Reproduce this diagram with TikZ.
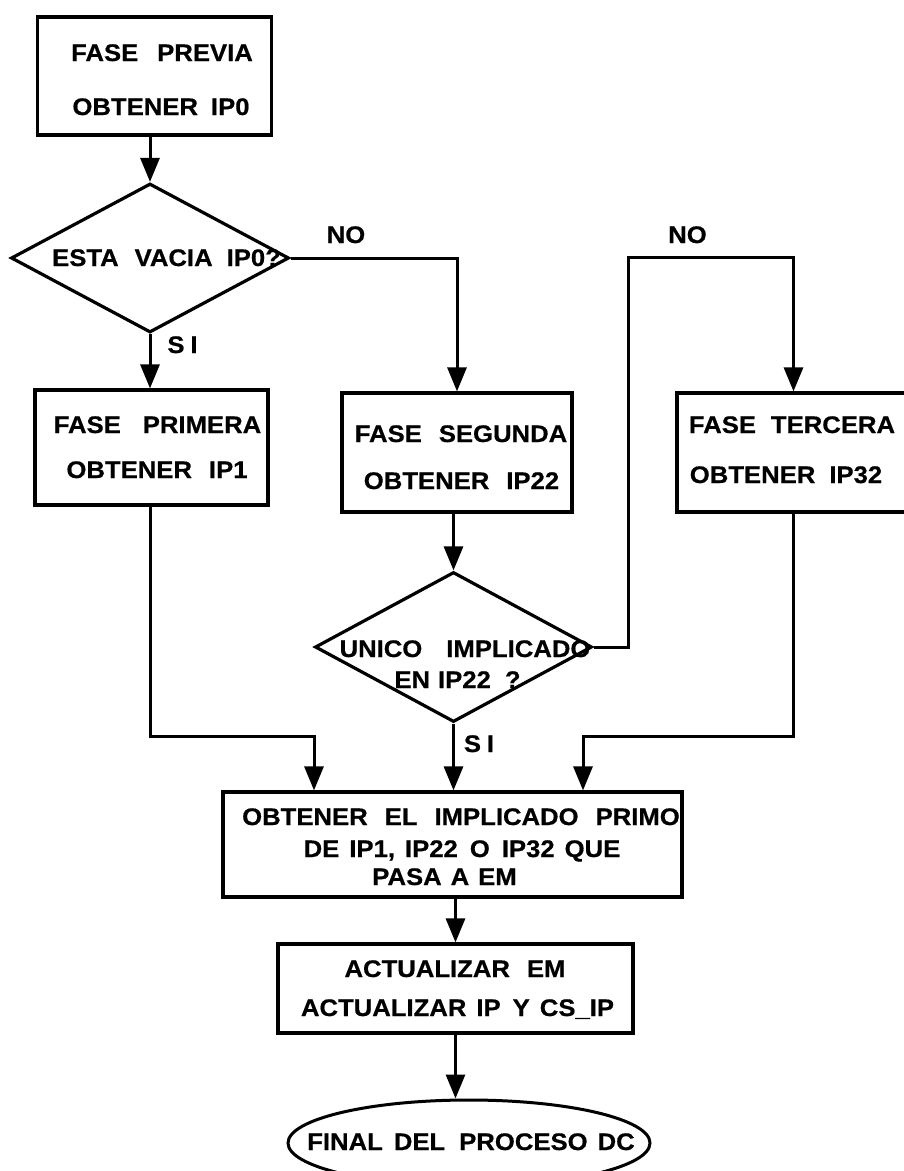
\documentclass[tikz,border=0pt]{standalone}
\usepackage{fontspec}
\setmainfont{Liberation Sans}[BoldFeatures={FakeStretch=1.07,FakeBold=0.6}]
\usetikzlibrary{arrows.meta,shapes.geometric}
% explicit gap between words, in pt
\newcommand{\gp}[1]{\hspace*{#1pt}}
\begin{document}
\begin{tikzpicture}[x=1pt,y=-1pt,
  box/.style={draw, rectangle, line width=3.2pt, inner sep=0pt},
  dia/.style={draw, diamond, line width=3.2pt, inner sep=0pt},
  term/.style={draw, ellipse, line width=3pt, inner sep=0pt},
  txt/.style={font=\bfseries\fontsize{24}{28}\selectfont, inner sep=0pt, anchor=base},
  flow/.style={-{Triangle[length=24pt,width=19pt]}, line width=3pt},
  line join=miter]
\useasboundingbox (0,0) rectangle (904,1171);

% ---- shapes ----
\node[box, minimum width=234pt, minimum height=118pt] (b0) at (154.5,76) {};
\node[dia, minimum width=278pt, minimum height=149pt] (d1) at (150,258) {};
\node[box, minimum width=233pt, minimum height=115pt] (b1) at (151.5,447.5) {};
\node[box, minimum width=230pt, minimum height=119pt] (b2) at (457,452.5) {};
\node[box, minimum width=233pt, minimum height=119pt] (b3) at (793.5,452.5) {};
\node[dia, minimum width=277pt, minimum height=150pt] (d2) at (453.5,647) {};
\node[box, minimum width=459pt, minimum height=105pt] (bm) at (452.5,844.5) {};
\node[box, minimum width=355pt, minimum height=89pt] (ba) at (455.5,988.5) {};
\node[term, minimum width=362pt, minimum height=86pt] (e) at (469,1143) {};

% ---- texts ----
\node[txt] (b0a) at (162,61) {FASE\gp{19}PREVIA};
\node[txt] (b0b) at (161,115) {OBTENER\gp{13}IP0};
\node[txt] (d1a) at (166.5,266) {ESTA\gp{16}VACIA\gp{14}IP0?};
\node[txt] (b1a) at (157.5,433) {FASE\gp{22}PRIMERA};
\node[txt] (b1b) at (157,478) {OBTENER\gp{17}IP1};
\node[txt] (b2a) at (461,442) {FASE\gp{17}SEGUNDA};
\node[txt] (b2b) at (461.5,489) {OBTENER\gp{17}IP22};
\node[txt] (b3a) at (792,433) {FASE\gp{15}TERCERA};
\node[txt] (b3b) at (786,483) {OBTENER\gp{14}IP32};
\node[txt] (d2a) at (465,657) {UNICO\gp{24}IMPLICADO};
\node[txt] (d2b) at (457.5,688) {EN\gp{8}IP22\gp{14}?};
\node[txt] (bma) at (461,825) {OBTENER\gp{17}EL\gp{17}IMPLICADO\gp{17}PRIMO};
\node[txt] (bmb) at (462,857) {DE\gp{10}IP1,\gp{10}IP22\gp{12}O\gp{12}IP32\gp{10}QUE};
\node[txt] (bmc) at (444.5,885) {PASA\gp{9}A\gp{9}EM};
\node[txt] (baa) at (455,977) {ACTUALIZAR\gp{17}EM};
\node[txt] (bab) at (457.5,1016) {ACTUALIZAR\gp{10}IP\gp{12}Y\gp{10}CS\_IP};
\node[txt] (ea) at (471,1150) {FINAL\gp{11}DEL\gp{14}PROCESO\gp{10}DC};

% ---- branch labels ----
\node[txt] (no1) at (346,243) {NO};
\node[txt] (no2) at (687.5,243) {NO};
\node[txt] (si1) at (182.5,353) {S\gp{6}I};
\node[txt] (si2) at (479,752) {S\gp{6}I};

% ---- connectors ----
\coordinate (r1) at (628,257);
\coordinate (k1) at (314,736);
\coordinate (k3) at (583,736);

\draw[flow] (b0.south -| d1.north) -- (d1.north);
\draw[flow] (d1.east) -| (b2.north);
\draw[flow] (d1.south) -- (d1.south |- b1.north);
\draw[flow] (b2.south -| d2.north) -- (d2.north);
\draw[flow] (d2.east) -| (r1) -| (b3.north);
\draw[flow] (d1.south |- b1.south) |- (k1) -- (k1 |- bm.north);
\draw[flow] (d2.south) -- (d2.south |- bm.north);
\draw[flow] (b3.south) |- (k3) -- (k3 |- bm.north);
\draw[flow] (ba.north |- bm.south) -- (ba.north);
\draw[flow] (ba.south) -- (ba.south |- e.north);
\end{tikzpicture}
\end{document}
